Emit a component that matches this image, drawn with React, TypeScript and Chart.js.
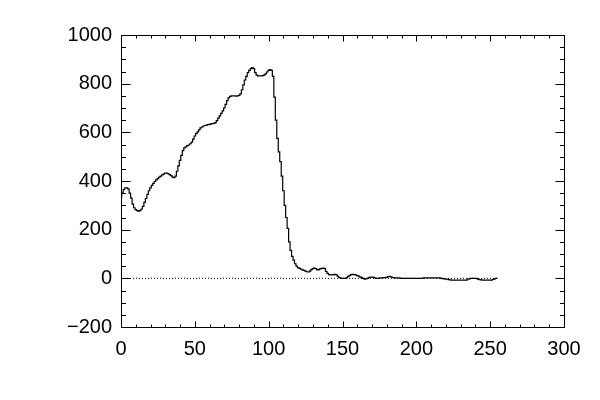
import { useEffect, useRef } from "react";
import { Chart, registerables } from "chart.js";

Chart.register(...registerables);

const xStart = 0;
const values: number[] = [
  // 0-9
  335, 350, 365, 372, 372, 368, 350, 330, 305, 290,
  // 10-19
  282, 278, 276, 278, 285, 296, 312, 328, 345, 360,
  // 20-29
  372, 382, 390, 398, 405, 410, 416, 420, 425, 428,
  // 30-39
  432, 432, 430, 426, 422, 416, 414, 420, 440, 462,
  // 40-49
  485, 505, 525, 536, 540, 545, 548, 553, 560, 572,
  // 50-59
  585, 595, 602, 610, 618, 622, 626, 628, 630, 632,
  // 60-69
  633, 635, 636, 637, 640, 648, 658, 668, 678, 688,
  // 70-79
  700, 715, 730, 742, 748, 750, 750, 750, 749, 750,
  // 80-89
  752, 758, 775, 795, 815, 830, 845, 855, 862, 866,
  // 90-99
  862, 845, 835, 832, 832, 832, 833, 835, 840, 848,
  // 100-109
  855, 858, 855, 830, 745, 650, 575, 520, 480, 420,
  // 110-119
  360, 300, 250, 205, 150, 115, 90, 75, 60, 50,
  // 120-129
  44, 41, 38, 35, 33, 30, 27, 26, 30, 36,
  // 130-139
  40, 42, 40, 35, 36, 39, 41, 42, 40, 28,
  // 140-149
  20, 15, 14, 14, 15, 16, 14, 8, 3, 1,
  // 150-159
  0, 0, 0, 3, 8, 12, 15, 16, 15, 14,
  // 160-169
  11, 9, 6, 3, 0, -3, -2, 0, 3, 5,
  // 170-179
  5, 4, 2, 0, 0, 1, 2, 2, 3, 3,
  // 180-189
  4, 7, 8, 6, 3, 3, 2, 2, 2, 1,
  // 190-199
  0, 0, 0, 0, 0, 0, 0, 0, 0, 0,
  // 200-209
  0, 0, 0, 0, 0, 2, 2, 2, 2, 2,
  // 210-219
  2, 2, 2, 2, 2, 2, 2, 0, -1, -2,
  // 220-229
  -3, -3, -5, -6, -7, -7, -7, -7, -7, -7,
  // 230-239
  -7, -7, -7, -7, -7, -3, -2, 0, 0, 0,
  // 240-249
  0, -1, -3, -5, -6, -7, -7, -7, -7, -7,
  // 250-255
  -7, -7, -4, -2, 0, 0,
];

const xMin = 0;
const xMax = 300;
const xMajorStep = 50;
const xMinorStep = 10;
const yMin = -200;
const yMax = 1000;
const yMajorStep = 200;
const yMinorStep = 50;
const zeroLineX = [0, 255];

const fmt = (v: number) => (v < 0 ? "\u2212" + Math.abs(v) : String(v));

const boxTicks = {
  id: "boxTicks",
  afterDraw(chart: any) {
    const { ctx, chartArea } = chart;
    const xs = chart.scales.x;
    const ys = chart.scales.y;
    const L = Math.round(chartArea.left) + 0.5;
    const R = Math.round(chartArea.right) + 0.5;
    const T = Math.round(chartArea.top) + 0.5;
    const B = Math.round(chartArea.bottom) + 0.5;
    ctx.save();
    ctx.strokeStyle = "#000";
    ctx.lineWidth = 1;
    ctx.beginPath();
    ctx.rect(L, T, R - L, B - T);
    for (let v = xMin; v <= xMax + 1e-9; v += xMinorStep) {
      const major = Math.abs(v / xMajorStep - Math.round(v / xMajorStep)) < 1e-9;
      const len = major ? 6 : 3;
      const px = Math.round(xs.getPixelForValue(v)) + 0.5;
      ctx.moveTo(px, B);
      ctx.lineTo(px, B - len);
      ctx.moveTo(px, T);
      ctx.lineTo(px, T + len);
    }
    for (let v = yMin; v <= yMax + 1e-9; v += yMinorStep) {
      const major = Math.abs(v / yMajorStep - Math.round(v / yMajorStep)) < 1e-9;
      const len = major ? 9 : 4.5;
      const py = Math.round(ys.getPixelForValue(v)) + 0.5;
      ctx.moveTo(L, py);
      ctx.lineTo(L + len, py);
      ctx.moveTo(R, py);
      ctx.lineTo(R - len, py);
    }
    ctx.stroke();
    ctx.restore();
  },
};

export default function App() {
  const ref = useRef<HTMLCanvasElement | null>(null);
  useEffect(() => {
    if (!ref.current) return;
    const data = values.map((v, i) => ({ x: xStart + i, y: v }));
    const zero = zeroLineX.map((x) => ({ x, y: 0 }));
    const chart = new Chart(ref.current, {
      type: "line",
      data: {
        datasets: [
          {
            data: zero,
            borderColor: "#000",
            borderWidth: 1,
            borderDash: [1, 2],
            pointRadius: 0,
          },
          {
            data,
            borderColor: "#000",
            borderWidth: 1.2,
            pointRadius: 0,
            stepped: "middle",
          },
        ],
      },
      options: {
        animation: false,
        responsive: false,
        devicePixelRatio: 1,
        layout: { padding: { top: 35, right: 36, left: 0, bottom: 0 } },
        plugins: { legend: { display: false }, tooltip: { enabled: false } },
        scales: {
          x: {
            type: "linear",
            min: xMin,
            max: xMax,
            grid: { display: false, drawTicks: false },
            border: { display: false },
            afterFit: (s: any) => {
              s.height = 73;
            },
            ticks: {
              stepSize: xMajorStep,
              padding: 10,
              maxRotation: 0,
              autoSkip: false,
              color: "#000",
              font: { family: "'Liberation Sans', Arial, sans-serif", size: 20 },
              callback: (v: any) => fmt(Number(v)),
            },
          },
          y: {
            type: "linear",
            min: yMin,
            max: yMax,
            grid: { display: false, drawTicks: false },
            border: { display: false },
            afterFit: (s: any) => {
              s.width = 121;
            },
            ticks: {
              stepSize: yMajorStep,
              padding: 9,
              autoSkip: false,
              color: "#000",
              font: { family: "'Liberation Sans', Arial, sans-serif", size: 20 },
              callback: (v: any) => fmt(Number(v)),
            },
          },
        },
      },
      plugins: [boxTicks],
    });
    return () => chart.destroy();
  }, []);
  return (
    <div style={{ position: "fixed", left: 0, top: 0, width: 600, height: 400, background: "#fff" }}>
      <canvas ref={ref} width={600} height={400} style={{ width: 600, height: 400 }} />
    </div>
  );
}
